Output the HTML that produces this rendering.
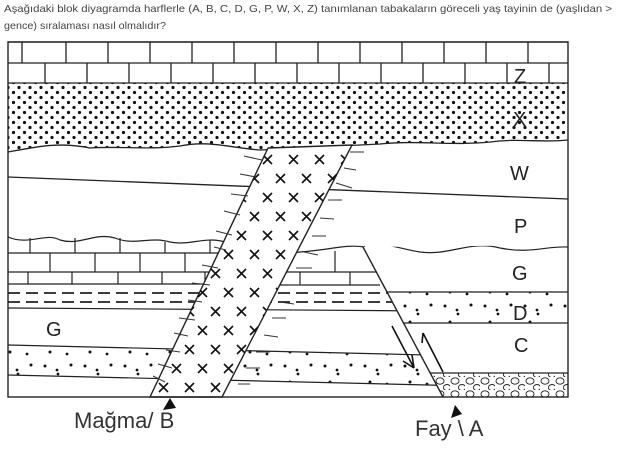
<!DOCTYPE html>
<html><head><meta charset="utf-8"><style>
html,body{margin:0;padding:0;background:#fff;}
svg{display:block;}
</style></head><body>
<svg width="620" height="451" viewBox="0 0 620 451" xmlns="http://www.w3.org/2000/svg" font-family="Liberation Sans, DejaVu Sans, sans-serif">
<defs>
<pattern id="dots" width="11" height="10" patternUnits="userSpaceOnUse">
<circle cx="2.5" cy="2.5" r="1.6" fill="#111"/><circle cx="8" cy="7.5" r="1.6" fill="#111"/>
</pattern>
<pattern id="sd" width="40" height="30" patternUnits="userSpaceOnUse">
<circle cx="5" cy="6" r="1.5" fill="#111"/><circle cx="17" cy="10" r="1.4" fill="#111"/><circle cx="18" cy="14" r="1.4" fill="#111"/>
<circle cx="31" cy="5" r="1.5" fill="#111"/><circle cx="10" cy="22" r="1.5" fill="#111"/><circle cx="27" cy="24" r="1.4" fill="#111"/>
</pattern>
<pattern id="cross" width="26" height="38" patternUnits="userSpaceOnUse">
<path d="M3 3l9 9M12 3l-9 9M16 22l9 9M25 22l-9 9" stroke="#111" stroke-width="1.6"/>
</pattern>
<pattern id="circ" width="15" height="13" patternUnits="userSpaceOnUse">
<ellipse cx="5" cy="4" rx="4" ry="3.2" fill="none" stroke="#222" stroke-width="0.9"/>
<ellipse cx="12" cy="10.5" rx="3.6" ry="3" fill="none" stroke="#222" stroke-width="0.9"/>
</pattern>
<clipPath id="lc"><polygon points="8,42 568,42 568,245 363,247 443,397 8,397"/></clipPath>
<clipPath id="rc"><polygon points="363,247 568,245 568,397 443,397"/></clipPath>
</defs>

<text x="4" y="12" font-size="10.5" fill="#444" textLength="608" lengthAdjust="spacingAndGlyphs">Aşağıdaki blok diyagramda harflerle (A, B, C, D, G, P, W, X, Z) tanımlanan tabakaların göreceli yaş tayinin de (yaşlıdan &gt;</text>
<text x="4" y="29" font-size="10.5" fill="#444" textLength="162" lengthAdjust="spacingAndGlyphs">gence) sıralaması nasıl olmalıdır?</text>

<g stroke="#222" stroke-width="1.3" fill="none">
<line x1="8" y1="42" x2="568" y2="42"/>
<line x1="8" y1="63" x2="568" y2="63"/>
<line x1="8" y1="83" x2="568" y2="83"/>
<path d="M22 42v21M66 42v21M108 42v21M150 42v21M192 42v21M234 42v21M276 42v21M318 42v21M360 42v21M402 42v21M444 42v21M486 42v21M528 42v21"/>
<path d="M45 63v20M87 63v20M129 63v20M171 63v20M213 63v20M255 63v20M297 63v20M339 63v20M381 63v20M423 63v20M465 63v20M507 63v20M549 63v20"/>
</g>
<rect x="510" y="64" width="22" height="18" fill="#fff"/>
<path d="M8 83H568V140C540 143 520 138 490 142C450 146 420 140 380 144C340 146 300 148 260 150C230 148 210 140 180 146C150 150 120 146 90 148C60 142 40 146 8 152Z" fill="url(#dots)" stroke="none"/>
<path d="M8 152C40 146 60 142 90 148C120 146 150 150 180 146C210 140 230 148 260 150C300 148 340 146 380 144C420 140 450 146 490 142C520 138 540 143 568 140" fill="none" stroke="#222" stroke-width="1.3"/>
<line x1="8" y1="177" x2="568" y2="199" stroke="#222" stroke-width="1.3"/>

<g clip-path="url(#lc)" stroke="#222" stroke-width="1.2" fill="none">
<path d="M8 237C30 246 45 232 60 240C80 246 95 232 115 238C135 246 150 236 170 242C190 246 205 236 225 242C250 250 270 256 300 252C330 250 345 244 365 247"/>
<path d="M8 253H230M8 272H230M8 284H230"/>
<path d="M30 238v15M75 238v15M120 238v15M165 242v11M210 240v13"/>
<path d="M50 253v19M95 253v19M140 253v19M185 253v19"/>
<path d="M28 272v12M72 272v12M118 272v12M162 272v12M205 272v12"/>
<path d="M210 272H380M210 285H380"/>
<path d="M240 246v26M285 252v20M335 251v21M255 272v13M300 272v13M350 272v13"/>
<path d="M8 293H420M8 302H420" stroke-dasharray="12,6" stroke-width="1.8"/>
<path d="M8 308L440 311"/>
</g>
<g clip-path="url(#lc)">
<path d="M8 345L470 356L470 386L8 375Z" fill="url(#sd)"/>
<path d="M8 375L470 386" stroke="#222" stroke-width="1.2"/>
<path d="M8 345L470 356" stroke="#222" stroke-width="1.2"/>
</g>

<g clip-path="url(#rc)">
<rect x="360" y="240" width="210" height="160" fill="#fff"/>
<path d="M363 247C380 240 395 248 420 252C450 256 470 240 500 248C530 254 545 246 568 247" fill="none" stroke="#222" stroke-width="1.2"/>
<rect x="360" y="292" width="210" height="31" fill="url(#sd)"/>
<line x1="360" y1="292" x2="568" y2="292" stroke="#222" stroke-width="1.3"/>
<line x1="360" y1="323" x2="568" y2="323" stroke="#222" stroke-width="1.3"/>
<rect x="360" y="373" width="210" height="26" fill="url(#circ)"/>
<line x1="360" y1="373" x2="568" y2="373" stroke="#222" stroke-width="1.3"/>
</g>
<line x1="363" y1="247" x2="443" y2="397" stroke="#222" stroke-width="1.4"/>

<polygon points="268,148 352,145 222,397 150,397" fill="#fff" stroke="#222" stroke-width="1.4"/>
<polygon points="268,148 352,145 222,397 150,397" fill="url(#cross)"/>
<g stroke="#333" stroke-width="1" fill="none">
<path d="M262 160l-18-4M256 177l-16-3M248 196l-17-2M240 215l-16-4M232 235l-16-4M226 250l-12-3M218 268l-16-3M210 285l-18-2M202 302l-14-2M195 320l-16-2M188 336l-14-3M180 352l-14-2M172 368l-14-4M165 382l-12-6"/>
<path d="M350 152l14 0M344 168l12 2M336 183l16 5M328 200l14 0M320 218l14 1M312 236l14 0M304 252l14 3M296 268l16 0M288 285l14 0M280 302l14 2M272 318l14 0M264 335l14 2M256 352l14 0M246 368l14 0M238 384l12 0"/>
</g>

<g stroke="#111" stroke-width="1.6" fill="none">
<path d="M392 326L414 368M414 368l-2-13M414 368l-11-7"/>
<path d="M443 372L423 333M423 333l-1 10"/>
</g>

<rect x="8" y="42" width="560" height="355" fill="none" stroke="#222" stroke-width="1.4"/>

<g font-size="20" fill="#222">
<text x="514" y="83">Z</text>
<text x="513" y="126">X</text>
<text x="510" y="180">W</text>
<text x="514" y="233">P</text>
<text x="512" y="280">G</text>
<text x="513" y="320">D</text>
<text x="514" y="352">C</text>
<text x="46" y="336">G</text>
</g>
<g font-size="22" fill="#333">
<text x="74" y="428">Mağma/ B</text>
<text x="415" y="436">Fay \ A</text>
</g>
<polygon points="170,398 163,410 176,408" fill="#111"/>
<polygon points="455,405 451,418 462,414" fill="#111"/>
</svg>
</body></html>
